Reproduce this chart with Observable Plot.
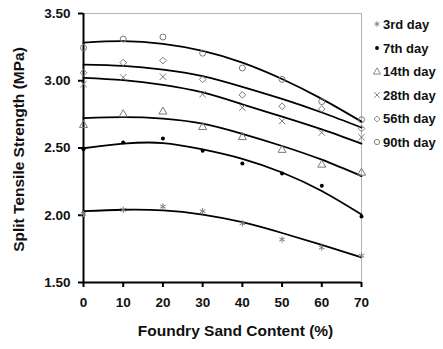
<!DOCTYPE html>
<html><head><meta charset="utf-8">
<script src="https://cdn.jsdelivr.net/npm/d3@7"></script>
<script src="https://cdn.jsdelivr.net/npm/@observablehq/plot@0.6"></script>
<style>
body{margin:0;background:#fff;font-family:"Liberation Sans",Arial,sans-serif;}
#wrap{position:relative;width:443px;height:349px;}
#legend{position:absolute;left:372px;top:12.7px;font-size:13px;font-weight:bold;color:#111;}
.item{height:23.6px;display:flex;align-items:center;white-space:nowrap;}
.item svg{width:10px;height:10px;margin-right:1px;flex:none}
</style></head><body><div id="wrap"><div id="legend"></div></div>
<script>
// Data
const sandContent = [0, 10, 20, 30, 40, 50, 60, 70];
const seriesNames = ["3rd day", "7th day", "14th day", "28th day", "56th day", "90th day"];
const day3  = [2.01, 2.04, 2.065, 2.03, 1.94, 1.82, 1.76, 1.70];
const day7  = [2.49, 2.54, 2.57, 2.48, 2.385, 2.31, 2.22, 1.99];
const day14 = [2.67, 2.75, 2.77, 2.655, 2.58, 2.485, 2.375, 2.315];
const day28 = [2.975, 3.025, 3.03, 2.90, 2.80, 2.70, 2.615, 2.58];
const day56 = [3.06, 3.135, 3.15, 3.01, 2.895, 2.81, 2.79, 2.645];
const day90 = [3.245, 3.31, 3.325, 3.205, 3.095, 3.01, 2.845, 2.71];
// trend lines
const trend3  = [2.030, 2.041, 2.036, 2.005, 1.948, 1.868, 1.780, 1.687];
const trend7  = [2.498, 2.532, 2.537, 2.490, 2.420, 2.318, 2.180, 2.005];
const trend14 = [2.722, 2.730, 2.719, 2.681, 2.605, 2.515, 2.413, 2.291];
const trend28 = [3.022, 3.005, 2.970, 2.913, 2.825, 2.733, 2.638, 2.532];
const trend56 = [3.120, 3.110, 3.083, 3.035, 2.955, 2.865, 2.764, 2.652];
const trend90 = [3.284, 3.294, 3.274, 3.222, 3.135, 3.013, 2.865, 2.696];
const xTicks = [0, 10, 20, 30, 40, 50, 60, 70];
const yTicks = [1.5, 2.0, 2.5, 3.0, 3.5];
const xLabel = "Foundry Sand Content (%)";
const yLabel = "Split Tensile Strength (MPa)";

const pointSets = [day3, day7, day14, day28, day56, day90];
const trendSets = [trend3, trend7, trend14, trend28, trend56, trend90];
const symbols = ["asterisk", "circle", "triangle", "times", "diamond2", "circle"];
const d3Symbols = [d3.symbolAsterisk, d3.symbolCircle, d3.symbolTriangle, d3.symbolTimes, d3.symbolDiamond2, d3.symbolCircle];

const gray = "#7a7a7a";
const marks = [
  Plot.frame({stroke: "#b4b4b4"}),
  Plot.axisX({ticks: xTicks, tickSize: 5, tickPadding: 10, stroke: "#000", strokeWidth: 2, label: null}),
  Plot.axisY({ticks: yTicks, tickSize: 5, tickPadding: 8, stroke: "#000", strokeWidth: 2, tickFormat: d => d.toFixed(2), label: null}),
  Plot.ruleX([0], {stroke: "#000", strokeWidth: 2}),
  Plot.ruleY([1.5], {stroke: "#000", strokeWidth: 2})
];
trendSets.forEach((t) => {
  const rows = sandContent.map((x, i) => ({x, y: t[i]}));
  marks.push(Plot.line(rows, {x: "x", y: "y", stroke: "#000", strokeWidth: 1.8, curve: "natural"}));
});
pointSets.forEach((p, k) => {
  const rows = sandContent.map((x, i) => ({x, y: p[i]}));
  if (k === 1) {
    marks.push(Plot.dot(rows, {x: "x", y: "y", r: 2, fill: "#000", stroke: "none"}));
  } else {
    marks.push(Plot.dot(rows, {x: "x", y: "y", r: 3, symbol: symbols[k], fill: "none", stroke: gray, strokeWidth: 1}));
  }
});
marks.push(Plot.text([xLabel], {frameAnchor: "bottom", dx: 13, dy: 53, fontSize: 15.5, fontWeight: "bold", textAnchor: "middle"}));
marks.push(Plot.text([yLabel], {frameAnchor: "left", rotate: -90, dx: -64, dy: 1.5, fontSize: 15.5, fontWeight: "bold", textAnchor: "middle"}));

const chart = Plot.plot({
  width: 443, height: 349,
  marginLeft: 83, marginRight: 82, marginTop: 13, marginBottom: 67,
  style: {fontFamily: "'Liberation Sans', Arial, sans-serif", fontSize: "13.5px", fontWeight: "bold", color: "#111", background: "white"},
  x: {domain: [0, 70]},
  y: {domain: [1.5, 3.5]},
  marks
});
document.getElementById("wrap").prepend(chart);

const legend = document.getElementById("legend");
seriesNames.forEach((name, k) => {
  const item = document.createElement("div");
  item.className = "item";
  const size = k === 1 ? 12 : 22;
  const path = d3.symbol().type(d3Symbols[k]).size(size)();
  const fill = k === 1 ? "#000" : "none";
  const stroke = k === 1 ? "none" : gray;
  item.innerHTML = `<svg viewBox="-5 -5 10 10"><path d="${path}" fill="${fill}" stroke="${stroke}" stroke-width="0.9"/></svg><span>${name}</span>`;
  legend.appendChild(item);
});
</script></body></html>
